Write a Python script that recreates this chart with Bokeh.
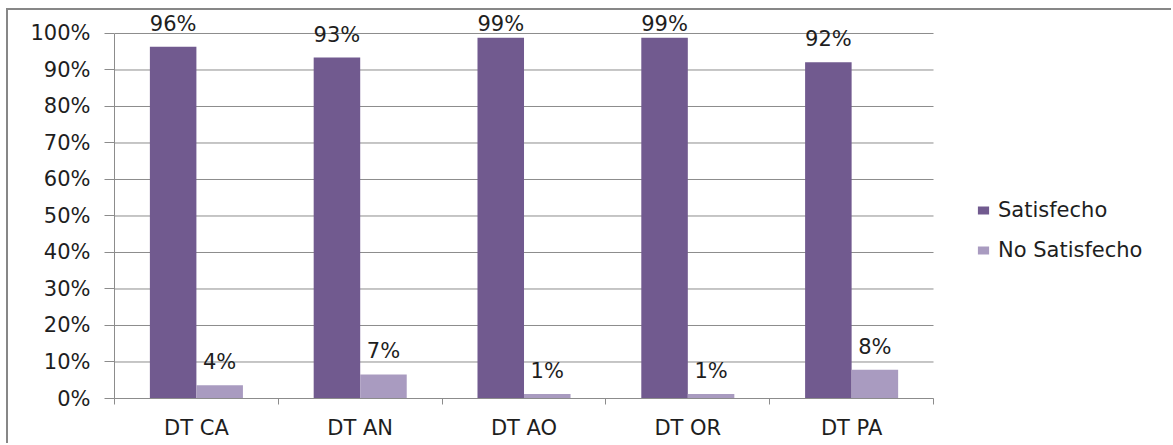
from bokeh.plotting import figure
from bokeh.models import Range1d, FixedTicker, ColumnDataSource, Legend, LegendItem
from bokeh.core.properties import value
from bokeh.embed import file_html
from bokeh.resources import INLINE

categories = ["DT CA", "DT AN", "DT AO", "DT OR", "DT PA"]
satisfecho = [96.4, 93.4, 98.8, 98.8, 92.1]
no_satisfecho = [3.6, 6.6, 1.2, 1.2, 7.9]
series_names = ["Satisfecho", "No Satisfecho"]
y_ticks = [0, 10, 20, 30, 40, 50, 60, 70, 80, 90, 100]

C_SAT = "#715a8f"
C_NO = "#a99bc0"
FONT = "DejaVu Sans"
FS = "21px"
GRID = "#8c8c8c"
TXT = "#1e1e1e"
LABEL_CAP = 96.4  # labels of taller bars are kept inside the chart area

W, H = 1165, 435
n = len(categories)
p = figure(width=W, height=H, output_backend="svg", toolbar_location=None,
           x_range=Range1d(0, 6.465), y_range=Range1d(0, 105.75),
           min_border_left=106, min_border_top=2, min_border_right=0,
           min_border_bottom=47)
p.outline_line_color = None
p.background_fill_color = "white"
p.border_fill_color = "white"
p.styles = {"margin-left": "6px", "margin-top": "8px",
            "border-left": "2px solid #878787", "border-top": "2px solid #878787"}

# horizontal gridlines over the category area only
p.segment(x0=[0] * len(y_ticks), x1=[n] * len(y_ticks), y0=y_ticks, y1=y_ticks,
          line_color=GRID, line_width=1)

idx = list(range(n))
off = 0.142
bw = 0.284
src = ColumnDataSource(dict(
    xs=[i + 0.5 - off for i in idx], xn=[i + 0.5 + off for i in idx],
    sat=satisfecho, no=no_satisfecho,
    ysat=[min(v, LABEL_CAP) for v in satisfecho],
    lsat=[f"{round(v)}%" for v in satisfecho],
    lno=[f"{round(v)}%" for v in no_satisfecho],
))

r1 = p.vbar(x="xs", top="sat", width=bw, source=src, fill_color=C_SAT, line_color=None)
r2 = p.vbar(x="xn", top="no", width=bw, source=src, fill_color=C_NO, line_color=None)

for xcol, ycol, lcol in (("xs", "ysat", "lsat"), ("xn", "no", "lno")):
    p.text(x=xcol, y=ycol, text=lcol, source=src, text_align="center",
           text_baseline="bottom", y_offset=-11, text_font_size=FS,
           text_font=value(FONT), text_color=TXT)

# y axis
p.yaxis.ticker = FixedTicker(ticks=y_ticks)
p.yaxis.bounds = (0, 100)
p.yaxis.major_label_overrides = {t: f"{t}%" for t in y_ticks}
p.yaxis.axis_line_color = GRID
p.yaxis.major_tick_line_color = GRID
p.yaxis.major_tick_out = 10
p.yaxis.major_tick_in = 0
p.yaxis.minor_tick_line_color = None
p.yaxis.major_label_standoff = 14
p.yaxis.major_label_text_font = FONT
p.yaxis.major_label_text_font_size = FS
p.yaxis.major_label_text_color = TXT
p.ygrid.grid_line_color = None

# x axis
p.xaxis.ticker = FixedTicker(ticks=[i + 0.5 for i in idx],
                             minor_ticks=list(range(n + 1)))
p.xaxis.bounds = (0, n)
p.xaxis.major_label_overrides = {i + 0.5: c for i, c in zip(idx, categories)}
p.xaxis.axis_line_color = GRID
p.xaxis.major_tick_line_color = None
p.xaxis.major_tick_out = 0
p.xaxis.major_tick_in = 0
p.xaxis.minor_tick_line_color = GRID
p.xaxis.minor_tick_out = 6
p.xaxis.minor_tick_in = 0
p.xaxis.major_label_standoff = 11
p.xaxis.major_label_text_font = FONT
p.xaxis.major_label_text_font_size = FS
p.xaxis.major_label_text_color = TXT
p.xgrid.grid_line_color = None

legend = Legend(items=[LegendItem(label=series_names[0], renderers=[r1]),
                       LegendItem(label=series_names[1], renderers=[r2])],
                location=(862, 136), orientation="vertical")
legend.padding = 0
legend.margin = 0
legend.border_line_color = None
legend.background_fill_alpha = 0
legend.glyph_width = 14
legend.glyph_height = 10
legend.label_height = 24
legend.label_standoff = 8
legend.spacing = 16
legend.label_text_font = FONT
legend.label_text_font_size = FS
legend.label_text_color = TXT
p.add_layout(legend, "center")

open("out.html", "w").write(file_html(p, INLINE))
